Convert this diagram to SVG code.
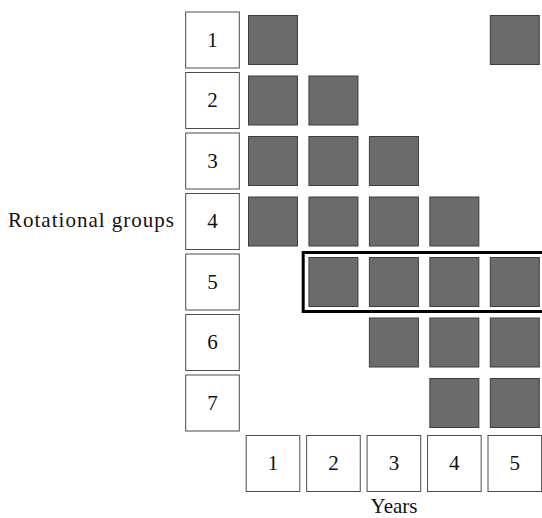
<svg xmlns="http://www.w3.org/2000/svg" width="542" height="518" viewBox="0 0 542 518">
<style>
.lbl rect{fill:#fff;stroke:#4d4d4d;stroke-width:1}
.cell rect{fill:#6b6b6b;stroke:#3d3d3d;stroke-width:1}
text{font-family:"Liberation Serif","Times New Roman",serif;font-size:21px;fill:#111}
.c{text-anchor:middle}
</style>
<rect width="542" height="518" fill="#fff"/>
<g id="groups-label"><text x="8" y="226.7" textLength="166" lengthAdjust="spacing">Rotational groups</text></g>
<g id="group-1" class="lbl"><rect x="185.7" y="12" width="53.6" height="56"/><text class="c" x="212.5" y="46.8">1</text></g>
<g id="group-2" class="lbl"><rect x="185.7" y="72.5" width="53.6" height="56"/><text class="c" x="212.5" y="107.3">2</text></g>
<g id="group-3" class="lbl"><rect x="185.7" y="133" width="53.6" height="56"/><text class="c" x="212.5" y="167.8">3</text></g>
<g id="group-4" class="lbl"><rect x="185.7" y="193.5" width="53.6" height="56"/><text class="c" x="212.5" y="228.3">4</text></g>
<g id="group-5" class="lbl"><rect x="185.7" y="254" width="53.6" height="56"/><text class="c" x="212.5" y="288.8">5</text></g>
<g id="group-6" class="lbl"><rect x="185.7" y="314.5" width="53.6" height="56"/><text class="c" x="212.5" y="349.3">6</text></g>
<g id="group-7" class="lbl"><rect x="185.7" y="375" width="53.6" height="56"/><text class="c" x="212.5" y="409.8">7</text></g>
<g id="year-1" class="lbl"><rect x="246.2" y="435.5" width="53.6" height="56"/><text class="c" x="273" y="470.3">1</text></g>
<g id="year-2" class="lbl"><rect x="306.65" y="435.5" width="53.6" height="56"/><text class="c" x="333.45" y="470.3">2</text></g>
<g id="year-3" class="lbl"><rect x="367.1" y="435.5" width="53.6" height="56"/><text class="c" x="393.9" y="470.3">3</text></g>
<g id="year-4" class="lbl"><rect x="427.55" y="435.5" width="53.6" height="56"/><text class="c" x="454.35" y="470.3">4</text></g>
<g id="year-5" class="lbl"><rect x="488" y="435.5" width="53.6" height="56"/><text class="c" x="514.8" y="470.3">5</text></g>
<g id="years-label"><text class="c" x="394" y="512.5">Years</text></g>
<g id="cells" class="cell">
<rect x="248.5" y="15.5" width="49" height="49"/>
<rect x="490.3" y="15.5" width="49" height="49"/>
<rect x="248.5" y="76" width="49" height="49"/>
<rect x="308.95" y="76" width="49" height="49"/>
<rect x="248.5" y="136.5" width="49" height="49"/>
<rect x="308.95" y="136.5" width="49" height="49"/>
<rect x="369.4" y="136.5" width="49" height="49"/>
<rect x="248.5" y="197" width="49" height="49"/>
<rect x="308.95" y="197" width="49" height="49"/>
<rect x="369.4" y="197" width="49" height="49"/>
<rect x="429.85" y="197" width="49" height="49"/>
<rect x="308.95" y="257.5" width="49" height="49"/>
<rect x="369.4" y="257.5" width="49" height="49"/>
<rect x="429.85" y="257.5" width="49" height="49"/>
<rect x="490.3" y="257.5" width="49" height="49"/>
<rect x="369.4" y="318" width="49" height="49"/>
<rect x="429.85" y="318" width="49" height="49"/>
<rect x="490.3" y="318" width="49" height="49"/>
<rect x="429.85" y="378.5" width="49" height="49"/>
<rect x="490.3" y="378.5" width="49" height="49"/>
</g>
<g id="connectors"><path id="highlight" d="M560 252.5 H303.2 V311.5 H560" fill="none" stroke="#000" stroke-width="3"/></g>
</svg>
